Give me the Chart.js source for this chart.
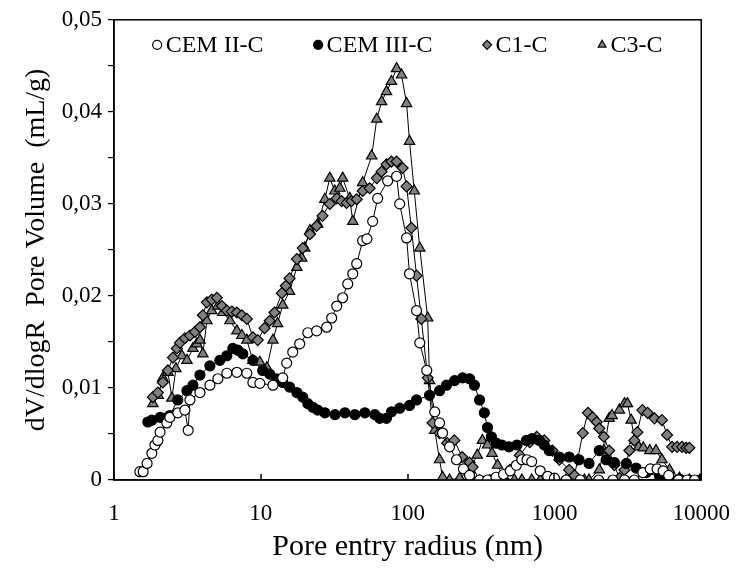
<!DOCTYPE html>
<html>
<head>
<meta charset="utf-8">
<script src="https://cdn.jsdelivr.net/npm/chart.js@4.4.1/dist/chart.umd.min.js"></script>
<style>
  body { margin: 0; background: #fff; }
</style>
</head>
<body>
<canvas id="poreChart" width="750" height="569"></canvas>
<script>
// series names
const seriesNames = ["CEM II-C", "CEM III-C", "C1-C", "C3-C"];

// CEM II-C : rayon (nm) / dV/dlogR (mL/g)
const cem2R = [1.50,1.58,1.68,1.81,1.90,1.99,2.06,2.29,2.40,2.72,3.04,3.20,3.29,3.85,4.50,5.10,5.87,6.87,8.03,8.83,9.85,12.1,14.1,15.0,16.5,18.4,20.9,24.0,28.1,30.4,32.9,36.1,39.1,42.3,45.0,49.4,52.8,57.8,62.5,73.1,84.1,88.3,98.4,103,115,121,135,153,165,173,193,215,240,264,309,350,400,450,500,550,600,650,700,800,900,1000,1200,1500,2000,2500,3000,3500,4000,4500,5000,5500,6000,7000,8000,9000];
const cem2V = [0.0009,0.0009,0.0018,0.0029,0.0038,0.0043,0.0052,0.0062,0.0068,0.0073,0.0076,0.0054,0.0087,0.0095,0.0103,0.0110,0.0116,0.0117,0.0116,0.0106,0.0105,0.0103,0.0111,0.0127,0.0139,0.0148,0.0160,0.0162,0.0166,0.0176,0.0189,0.0198,0.0213,0.0224,0.0235,0.0260,0.0262,0.0281,0.0306,0.0325,0.0330,0.0300,0.0263,0.0224,0.0184,0.0149,0.0119,0.0074,0.0062,0.0051,0.0036,0.0022,0.0012,0.0005,0,0,0.0003,0.0006,0.0010,0.0016,0.0022,0.0022,0.0020,0.0010,0.0004,0.0002,0,0,0,0,0,0,0.0008,0.0012,0.0012,0.0010,0.0005,0,0,0];

// CEM III-C
const cem3R = [1.70,1.81,2.06,2.22,2.40,2.72,3.14,3.45,3.85,4.50,5.26,5.87,6.45,6.98,7.54,8.83,10.3,11.5,12.8,14.1,15.7,17.6,19.3,20.9,22.6,24.4,27.3,32.0,37.4,43.7,51.1,59.8,64.5,71.8,77.6,88.3,103,115,141,165,184,209,237,264,285,309,333,350,372,402,439,490,556,644,706,790,853,921,1080,1260,1470,1720,2020,2250,2560,3090,3600,4220,5200,6080,7100,8300,9800];
const cem3V = [0.0063,0.0065,0.0068,0.0067,0.0070,0.0087,0.0097,0.0103,0.0114,0.0124,0.0130,0.0135,0.0143,0.0141,0.0137,0.0130,0.0119,0.0115,0.0110,0.0106,0.0101,0.0095,0.0090,0.0083,0.0079,0.0076,0.0073,0.0071,0.0073,0.0071,0.0073,0.0071,0.0067,0.0067,0.0074,0.0078,0.0081,0.0087,0.0092,0.0097,0.0103,0.0108,0.0111,0.0110,0.0103,0.0087,0.0073,0.0057,0.0047,0.0040,0.0038,0.0036,0.0038,0.0043,0.0045,0.0043,0.0038,0.0032,0.0025,0.0025,0.0022,0.0018,0.0032,0.0022,0.0019,0.0018,0.0013,0.0008,0.0004,0.0002,0.0001,0,0];

// C1-C
const c1R = [1.84,1.99,2.15,2.33,2.52,2.68,2.81,3.04,3.29,3.56,3.85,4.03,4.29,4.63,5.02,5.43,5.87,6.35,6.87,7.43,8.03,8.83,9.53,10.6,11.5,12.4,13.9,14.8,15.7,17.6,19.3,21.6,24.0,26.3,29.5,32.9,35.5,38.4,41.5,45.0,49.4,55.1,61.6,66.5,71.8,77.6,84.1,92.5,98.4,106,115,124,137,148,165,186,208,235,264,277,309,362,424,497,581,679,757,853,969,1080,1260,1370,1440,1560,1690,1820,1940,2020,2170,2360,2560,2770,3000,3240,3500,3670,3970,4310,4800,5400,5850,6330,6840,7400,7900,8300];
const c1V = [0.0090,0.0095,0.0106,0.0119,0.0133,0.0143,0.0149,0.0154,0.0157,0.0161,0.0166,0.0179,0.0193,0.0196,0.0198,0.0189,0.0184,0.0183,0.0182,0.0179,0.0175,0.0155,0.0152,0.0165,0.0173,0.0182,0.0203,0.0211,0.0219,0.0240,0.0252,0.0267,0.0276,0.0287,0.0300,0.0306,0.0303,0.0301,0.0303,0.0305,0.0314,0.0317,0.0328,0.0335,0.0343,0.0346,0.0346,0.0339,0.0319,0.0274,0.0222,0.0175,0.0111,0.0062,0.0051,0.0040,0.0043,0.0025,0.0019,0.0014,0,0,0.0002,0.0011,0.0027,0.0041,0.0047,0.0043,0.0032,0.0022,0.0011,0.0005,0.0022,0.0051,0.0073,0.0068,0.0063,0.0056,0.0047,0.0032,0.0016,0.0002,0.0011,0.0032,0.0043,0.0052,0.0076,0.0073,0.0067,0.0065,0.0049,0.0036,0.0036,0.0036,0.0035,0.0035];

// C3-C
const c3R = [1.84,2.00,2.15,2.33,2.48,2.64,2.90,3.14,3.45,3.67,3.85,4.03,4.29,4.63,5.10,5.51,6.16,6.87,7.43,8.03,8.83,9.85,11.0,12.1,13.0,14.1,15.7,17.6,19.0,19.9,21.6,24.4,27.3,29.5,31.9,34.5,36.1,40.3,42.3,49.4,56.9,61.6,66.5,71.8,77.6,84.1,90.9,98.4,103,111,121,137,141,153,165,173,193,226,264,298,323,350,376,410,455,534,600,700,800,900,1000,1200,1400,1600,1720,2020,2170,2360,2470,2770,3000,3140,3330,3530,3750,4030,4460,4920,5400,6080,7100,8300,9800];
const c3V = [0.0083,0.0092,0.0111,0.0117,0.0089,0.0121,0.0135,0.0130,0.0143,0.0148,0.0152,0.0137,0.0173,0.0184,0.0189,0.0182,0.0173,0.0162,0.0157,0.0152,0.0130,0.0128,0.0122,0.0152,0.0170,0.0190,0.0205,0.0231,0.0241,0.0252,0.0271,0.0278,0.0305,0.0328,0.0314,0.0317,0.0328,0.0306,0.0281,0.0323,0.0352,0.0392,0.0411,0.0422,0.0433,0.0447,0.0440,0.0409,0.0368,0.0314,0.0252,0.0176,0.0108,0.0054,0.0022,0.0003,0,0.0002,0.0011,0.0027,0.0043,0.0038,0.0029,0.0016,0.0002,0,0,0,0,0,0,0,0,0,0,0.0011,0.0032,0.0067,0.0070,0.0076,0.0083,0.0083,0.0065,0.0043,0.0036,0.0035,0.0032,0.0032,0.0022,0.0011,0.0002,0,0];

// axes
const xTicks = [1, 10, 100, 1000, 10000];

function toPoints(rs, vs) {
    return rs.map((r, i) => ({ x: r, y: vs[i] }));
}

const serif = "'Liberation Serif', 'Times New Roman', serif";

// cadre + petites graduations vers l'intérieur sur l'axe x
const framePlugin = {
    id: 'frame',
    afterDraw(chart) {
        const ctx = chart.ctx;
        const a = chart.chartArea;
        const xs = chart.scales.x;
        ctx.save();
        ctx.strokeStyle = '#000';
        ctx.lineWidth = 1.5;
        ctx.strokeRect(a.left, a.top, a.right - a.left, a.bottom - a.top);
        xTicks.forEach(t => {
            const px = Math.round(xs.getPixelForValue(t));
            ctx.beginPath();
            ctx.moveTo(px, a.bottom);
            ctx.lineTo(px, a.bottom - 6);
            ctx.stroke();
        });
        ctx.restore();
    }
};

// légende horizontale dans la zone du graphique
const legendPlugin = {
    id: 'insideLegend',
    afterDraw(chart) {
        const ctx = chart.ctx;
        const a = chart.chartArea;
        const gap = 50, mark = 9, space = 4;
        ctx.save();
        ctx.font = "24px " + serif;
        ctx.textBaseline = 'middle';
        const items = chart.data.datasets.map(ds => ({ ds, w: mark + space + ctx.measureText(ds.label).width }));
        const total = items.reduce((s, it) => s + it.w, 0) + gap * (items.length - 1);
        let x = (a.left + a.right) / 2 - total / 2;
        const y = a.top + 25;
        items.forEach(it => {
            ctx.fillStyle = it.ds.pointBackgroundColor;
            ctx.strokeStyle = '#000';
            ctx.lineWidth = 1.2;
            Chart.helpers.drawPoint(ctx, { pointStyle: it.ds.pointStyle, radius: 4.5, rotation: 0, borderWidth: 1.2 }, x + mark / 2, y);
            ctx.fillStyle = '#000';
            ctx.fillText(it.ds.label, x + mark + space, y + 1);
            x += it.w + gap;
        });
        ctx.restore();
    }
};

function makeSet(i, rs, vs, style, fill, radius) {
    return {
        label: seriesNames[i],
        data: toPoints(rs, vs),
        showLine: true,
        borderColor: '#000',
        borderWidth: 1,
        pointStyle: style,
        pointRadius: radius,
        pointBorderWidth: 1.2,
        pointBorderColor: '#000',
        pointBackgroundColor: fill,
        backgroundColor: fill
    };
}

const ctx = document.getElementById('poreChart').getContext('2d');
const poreChart = new Chart(ctx, {
    type: 'scatter',
    data: {
        datasets: [
            makeSet(0, cem2R, cem2V, 'circle', '#ffffff', 5),
            makeSet(1, cem3R, cem3V, 'circle', '#000000', 5),
            makeSet(2, c1R, c1V, 'rectRot', '#808080', 5.5),
            makeSet(3, c3R, c3V, 'triangle', '#808080', 6)
        ]
    },
    options: {
        responsive: false,
        animation: false,
        devicePixelRatio: 1,
        layout: { padding: { top: 18, right: 48, left: 16, bottom: 0 } },
        plugins: {
            tooltip: { enabled: false },
            legend: { display: false }
        },
        scales: {
            x: {
                type: 'logarithmic',
                min: 1,
                max: 10000,
                afterBuildTicks: s => { s.ticks = xTicks.map(v => ({ value: v })); },
                afterFit: s => { s.height = 89; },
                grid: { display: true, drawOnChartArea: false, drawTicks: false },
                border: { color: '#000', width: 1.5 },
                ticks: {
                    color: '#000',
                    padding: 20,
                    maxRotation: 0,
                    font: { family: serif, size: 23 },
                    callback: v => String(v)
                },
                title: {
                    display: true,
                    text: 'Pore entry radius (nm)',
                    color: '#000',
                    font: { family: serif, size: 30 },
                    padding: { top: 2 }
                }
            },
            y: {
                min: 0,
                max: 0.05,
                ticks: {
                    stepSize: 0.005,
                    color: '#000',
                    padding: 6,
                    font: { family: serif, size: 23 },
                    callback: v => {
                        const k = Math.round(v * 1000);
                        if (k % 10 !== 0) return '';
                        return k === 0 ? '0' : (k / 1000).toFixed(2).replace('.', ',');
                    }
                },
                afterFit: s => { s.width = 98; },
                grid: { display: true, drawOnChartArea: false, drawTicks: true, tickLength: 6, color: '#000', lineWidth: 1.2 },
                border: { color: '#000', width: 1.5 },
                title: {
                    display: true,
                    text: 'dV/dlogR  Pore Volume  (mL/g)',
                    color: '#000',
                    font: { family: serif, size: 28 },
                    padding: { bottom: 0 }
                }
            }
        }
    },
    plugins: [framePlugin, legendPlugin]
});
</script>
</body>
</html>
